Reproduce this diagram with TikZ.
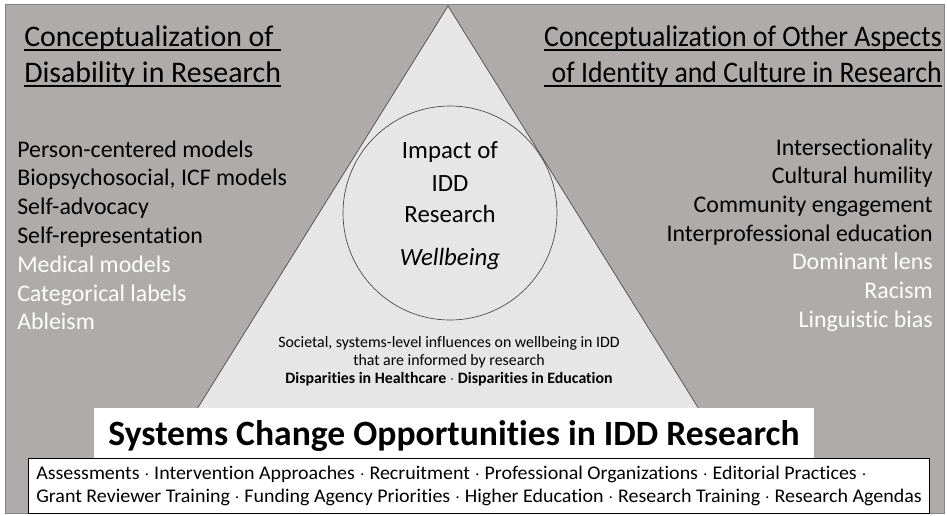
\documentclass[tikz,border=0pt]{standalone}
\usepackage{fontspec}
\setmainfont{Carlito}[Ligatures=NoCommon]
\usetikzlibrary{positioning}
\definecolor{bggray}{RGB}{174,171,170}
\definecolor{trifill}{RGB}{231,230,231}
\definecolor{framegray}{RGB}{128,130,142}
\definecolor{edgegray}{RGB}{70,70,70}
\tikzset{
	headtext/.style={inner sep=0pt, font=\fontsize{22.4}{27}\selectfont},
	itemtext/.style={inner sep=0pt, font=\fontsize{17.9}{21}\selectfont},
	impacttext/.style={inner sep=0pt, anchor=base, font=\fontsize{18.6}{22}\selectfont},
	influtext/.style={inner sep=0pt, anchor=base, font=\fontsize{11.9}{14}\selectfont},
	opptext/.style={inner sep=0pt, align=left, font=\fontsize{14.5}{17.4}\selectfont},
	underl/.style={line width=0.9pt}
}
\begin{document}
\begin{tikzpicture}[x=0.75pt, y=-0.75pt]
	\useasboundingbox (0,0) rectangle (947,515);
	\draw[framegray, fill=bggray] (5,4) rectangle (944,513);
	
	% triangle and circle
	\draw[edgegray, line width=0.5pt, fill=trifill] (448,6) coordinate (apex) -- (184,430) -- (712,430) -- cycle;
	\node[circle, draw=edgegray, line width=0.5pt, fill=trifill, minimum size=160.5pt, inner sep=0pt] (impact) at (450,213) {};
	
	\node[impacttext] (imp1) at (450,158) {Impact of};
	\node[impacttext] (imp2) at (450,191) {IDD};
	\node[impacttext] (imp3) at (450,222) {Research};
	\node[impacttext] (imp4) at (450,265) {\itshape Wellbeing};
	
	\node[influtext] (infl1) at (449,347) {Societal, systems-level influences on wellbeing in IDD};
	\node[influtext] (infl2) at (449,365) {that are informed by research};
	\node[influtext] (infl3) at (449,383) {\bfseries Disparities in Healthcare $\cdot$ Disparities in Education};
	
	% headings
	\node[headtext, anchor=base west] (dishead1) at (24,46) {Conceptualization of};
	\node[headtext, anchor=base west] (dishead2) at (24,82) {Disability in Research};
	\draw[underl] (24,50) -- (281,50);
	\draw[underl] (24,86) -- (281,86);
	
	\node[headtext, anchor=base east] (idhead1) at (942,46) {\scalebox{0.93}[1]{Conceptualization of Other Aspects}};
	\node[headtext, anchor=base east] (idhead2) at (942,82) {\scalebox{0.93}[1]{of Identity and Culture in Research}};
	\draw[underl] (544,50) -- (942,50);
	\draw[underl] (544,86) -- (942,86);
	
	% lists
	\foreach \txt [count=\i from 0] in {Person-centered models, {Biopsychosocial, ICF models}, Self-advocacy, Self-representation}
		\node[itemtext, anchor=base west] (dis\i) at (17,157+28.8*\i) {\txt};
	\foreach \txt [count=\i from 4] in {Medical models, Categorical labels, Ableism}
		\node[itemtext, anchor=base west, white] (dis\i) at (17,157+28.8*\i) {\txt};
	
	\foreach \txt [count=\i from 0] in {Intersectionality, Cultural humility, Community engagement, Interprofessional education}
		\node[itemtext, anchor=base east] (id\i) at (933,155+28.7*\i) {\txt};
	\foreach \txt [count=\i from 4] in {Dominant lens, Racism, Linguistic bias}
		\node[itemtext, anchor=base east, white] (id\i) at (933,155+28.7*\i) {\txt};
	
	% systems change boxes
	\node[fill=white, inner sep=0pt, minimum width=540pt, minimum height=37.5pt] (titlebox) at (454,433) {};
	\node[inner sep=0pt, anchor=base, font=\fontsize{26.7}{31}\selectfont\bfseries] (title) at (454,445) {Systems Change Opportunities in IDD Research};
	
	\node[draw, line width=0.6pt, fill=white, inner sep=0pt, minimum width=675.75pt, minimum height=41.25pt] (oppbox) at (478.5,485.5) {};
	\node[opptext, anchor=west] (opp) at (36,486) {\scalebox{1.033}[1]{\begin{tabular}{@{}l@{}}Assessments $\cdot$ Intervention Approaches $\cdot$ Recruitment $\cdot$ Professional Organizations $\cdot$ Editorial Practices $\cdot$\\
		Grant Reviewer Training $\cdot$ Funding Agency Priorities $\cdot$ Higher Education $\cdot$ Research Training $\cdot$ Research Agendas\end{tabular}}};
\end{tikzpicture}
\end{document}
